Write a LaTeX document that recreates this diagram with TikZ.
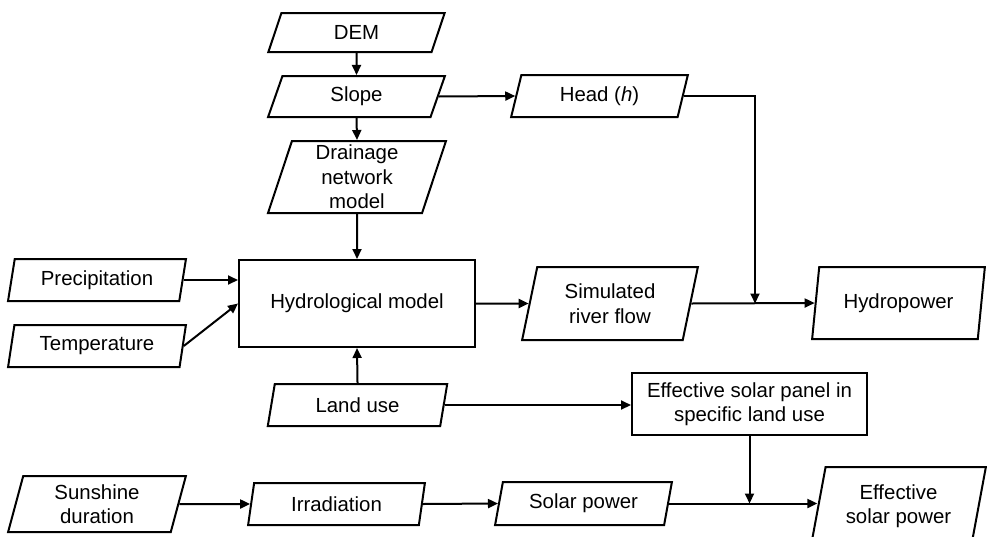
\documentclass[tikz,border=0pt]{standalone}
\usepackage{fontspec}
\setmainfont{Liberation Sans}
\usetikzlibrary{shapes.geometric,arrows.meta}
\begin{document}
\begin{tikzpicture}[x=1pt,y=-1pt]
\tikzset{
  base/.style={draw, line width=2pt, font=\fontsize{20.4}{24.5}\selectfont, align=center, inner xsep=2pt, inner ysep=0pt},
  para/.style={base, trapezium, trapezium left angle=#1, trapezium right angle={180-#1}, trapezium stretches=true},
  box/.style={base, rectangle},
  conn/.style={line width=2pt, -{Triangle[length=10pt,width=9pt]}},
}
\useasboundingbox (0,0) rectangle (987,536);
\node[para=73, minimum width=177pt, minimum height=39pt] (dem) at (356.5,32.5) {DEM};
\node[para=74, minimum width=177pt, minimum height=41pt] (slope) at (356.5,96.5) {Slope};
\node[para=76, minimum width=178pt, minimum height=72pt] (drain) at (357,177) {Drainage\\network\\model};
\node[para=74, minimum width=177pt, minimum height=42pt] (head) at (599.5,96) {Head (\textit{h})};
\node[para=76, minimum width=178pt, minimum height=42pt] (precip) at (97,280) {Precipitation};
\node[para=76, minimum width=178pt, minimum height=42pt] (temp) at (97,346) {Temperature};
\node[box, minimum width=236pt, minimum height=87pt] (hydro) at (357,303.5) {Hydrological model};
\node[para=76, minimum width=181pt, minimum height=42pt] (land) at (357.5,405) {Land use};
\node[para=76, minimum width=176pt, minimum height=73pt] (sim) at (610,303.5) {Simulated\\river flow};
\node[para=75, minimum width=173pt, minimum height=72pt] (hp) at (898.5,303) {Hydropower};
\node[box, minimum width=235pt, minimum height=62pt] (panel) at (749.5,404) {Effective solar panel in\\specific land use};
\node[para=77, minimum width=178pt, minimum height=56pt] (sun) at (97,504) {Sunshine\\duration};
\node[para=77, minimum width=177pt, minimum height=42pt] (irr) at (336.5,504) {Irradiation};
\node[para=74, minimum width=177pt, minimum height=43pt] (solar) at (583.5,503.5) {Solar power};
\node[para=76, minimum width=175pt, minimum height=78pt] (eff) at (898.5,506) {Effective\\solar power};
\coordinate (jh) at (755,0 |- sim.east);
\coordinate (js) at (panel.south |- solar.east);
\draw[conn] (dem.south) -- (slope.north);
\draw[conn] (slope.south) -- (drain.north);
\draw[conn] (drain.south) -- (hydro.north);
\draw[conn] (slope.east) -- (head.west);
\draw[conn] (head.east) -| (jh);
\draw[conn] (precip.east) -- (precip.east -| hydro.west);
\draw[conn] (temp.east) -- (hydro.west);
\draw[conn] (land.north) -- (hydro.south);
\draw[conn] (hydro.east) -- (sim.west);
\draw[conn] (sim.east) -- (hp.west);
\draw[conn] (land.east) -- (land.east -| panel.west);
\draw[conn] (panel.south) -- (js);
\draw[conn] (sun.east) -- (irr.west);
\draw[conn] (irr.east) -- (solar.west);
\draw[conn] (solar.east) -- (eff.west |- solar.east);
\end{tikzpicture}
\end{document}
